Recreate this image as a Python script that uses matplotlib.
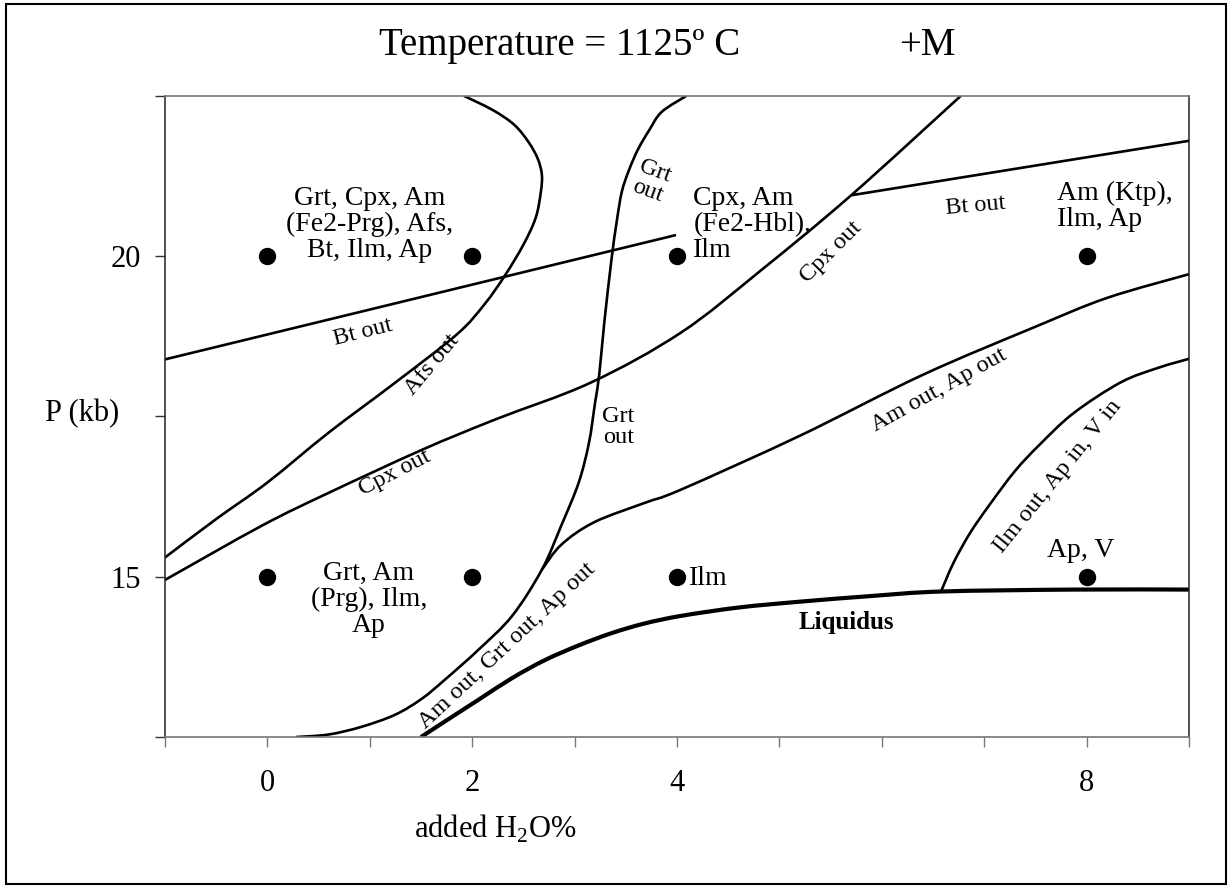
import matplotlib
matplotlib.use("Agg")
import matplotlib.pyplot as plt
from matplotlib.patches import Rectangle, PathPatch
from matplotlib.path import Path

plt.rcParams['font.family'] = ['Liberation Serif', 'DejaVu Serif']
plt.rcParams['mathtext.fontset'] = 'custom'
plt.rcParams['mathtext.rm'] = 'Liberation Serif'

# experimental runs: added H2O (wt%) and pressure (kb)
RUN_H2O = [0, 2, 4, 8, 0, 2, 4, 8]
RUN_P = [20, 20, 20, 20, 15, 15, 15, 15]

# phase boundaries, read as (H2O, P) points
BT_OUT_LOW_X = [-1.0, 3.99]
BT_OUT_LOW_Y = [18.39, 20.33]

BT_OUT_HIGH_X = [5.70, 9.0]
BT_OUT_HIGH_Y = [20.95, 21.80]

AFS_OUT_X = [-1.0, -0.5, 0.0, 0.6, 1.25, 1.85, 2.12, 2.32, 2.50, 2.62,
             2.67, 2.68, 2.64, 2.55, 2.41, 2.20, 1.92]
AFS_OUT_Y = [15.30, 15.90, 16.47, 17.25, 18.03, 18.78, 19.25, 19.70, 20.18,
             20.60, 21.0, 21.27, 21.52, 21.78, 22.05, 22.28, 22.50]

GRT_OUT_X = [0.28, 0.60, 0.92, 1.25, 1.51, 1.73, 2.06, 2.39, 2.68, 2.87,
             3.04, 3.14, 3.20, 3.24, 3.29, 3.36, 3.41, 3.46, 3.53, 3.62,
             3.73, 3.85, 4.09]
GRT_OUT_Y = [12.50, 12.54, 12.66, 12.85, 13.10, 13.39, 13.86, 14.39, 15.11,
             15.80, 16.47, 17.09, 17.72, 18.15, 18.97, 19.95, 20.53, 21.0,
             21.34, 21.67, 21.97, 22.25, 22.50]

CPX_OUT_X = [-1.0, -0.05, 0.60, 1.51, 2.22, 3.16, 4.04, 4.82, 5.70, 6.77]
CPX_OUT_Y = [14.95, 15.80, 16.31, 16.98, 17.45, 18.03, 18.81, 19.78, 20.95, 22.50]

AM_OUT_X = [2.68, 2.87, 3.19, 3.68, 4.04, 5.20, 6.40, 7.50, 8.20, 9.0]
AM_OUT_Y = [15.11, 15.50, 15.85, 16.15, 16.36, 17.20, 18.15, 18.90, 19.35,
            19.72]

ILM_OUT_X = [6.58, 6.70, 6.86, 7.05, 7.30, 7.54, 7.87, 8.33, 8.70, 9.0]
ILM_OUT_Y = [14.78, 15.22, 15.68, 16.12, 16.65, 17.06, 17.55, 18.03, 18.26,
             18.40]

LIQUIDUS_X = [1.50, 1.73, 2.06, 2.39, 2.71, 3.04, 3.36, 3.68, 4.04, 4.60,
              5.19, 5.90, 6.58, 7.87, 9.0]
LIQUIDUS_Y = [12.50, 12.74, 13.08, 13.42, 13.70, 13.93, 14.12, 14.27, 14.39,
              14.52, 14.61, 14.70, 14.77, 14.80, 14.80]

# assemblage fields: text, x, y, alignment
FIELD_LABELS = [
    ("Grt, Cpx, Am\n(Fe2-Prg), Afs,\nBt, Ilm, Ap", 1.00, 20.50, "center"),
    ("Cpx, Am\n(Fe2-Hbl),\nIlm", 4.16, 20.50, "left"),
    ("Am (Ktp),\nIlm, Ap", 7.71, 20.77, "left"),
    ("Grt, Am\n(Prg), Ilm,\nAp", 0.99, 14.64, "center"),
    ("Ilm", 4.12, 14.98, "left"),
    ("Ap, V", 7.94, 15.41, "center"),
]

# reaction labels: text, x, y, rotation
LINE_LABELS = [
    ("Bt out", 0.93, 18.81, 14),
    ("Afs out", 1.61, 18.31, 50),
    ("Cpx out", 1.24, 16.62, 27),
    ("Grt\nout", 3.43, 17.33, 0),
    ("Grt\nout", 3.75, 21.17, -20),
    ("Cpx out", 5.50, 20.06, 45),
    ("Bt out", 6.91, 20.78, 5),
    ("Am out, Ap out", 6.56, 17.91, 29),
    ("Am out, Grt out, Ap out", 2.34, 13.92, 43),
    ("Ilm out, Ap in, V in", 7.72, 16.56, 51),
]

XTICKS = list(range(-1, 10))
XTICK_LABELS = ["", "0", "", "2", "", "4", "", "", "", "8", ""]
YTICKS = [12.5, 15, 17.5, 20, 22.5]
YTICK_LABELS = ["", "15", "", "20", ""]


def smoothPath(xs, ys):
    # Catmull-Rom through the read points, drawn as cubic Bezier pieces
    pts = list(zip(xs, ys))
    verts = [pts[0]]
    codes = [Path.MOVETO]
    for i in range(len(pts) - 1):
        p0 = pts[i - 1] if i > 0 else pts[i]
        p1 = pts[i]
        p2 = pts[i + 1]
        p3 = pts[i + 2] if i + 2 < len(pts) else pts[i + 1]
        c1 = (p1[0] + (p2[0] - p0[0]) / 6, p1[1] + (p2[1] - p0[1]) / 6)
        c2 = (p2[0] - (p3[0] - p1[0]) / 6, p2[1] - (p3[1] - p1[1]) / 6)
        verts += [c1, c2, p2]
        codes += [Path.CURVE4] * 3
    return Path(verts, codes)


def drawBoundaries(ax):
    lw = 1.9
    for xs, ys in [(BT_OUT_LOW_X, BT_OUT_LOW_Y), (BT_OUT_HIGH_X, BT_OUT_HIGH_Y),
                   (AFS_OUT_X, AFS_OUT_Y), (GRT_OUT_X, GRT_OUT_Y),
                   (CPX_OUT_X, CPX_OUT_Y), (AM_OUT_X, AM_OUT_Y),
                   (ILM_OUT_X, ILM_OUT_Y)]:
        ax.add_patch(PathPatch(smoothPath(xs, ys), fill=False,
                               edgecolor='black', lw=lw, capstyle='butt'))
    ax.add_patch(PathPatch(smoothPath(LIQUIDUS_X, LIQUIDUS_Y), fill=False,
                           edgecolor='black', lw=3.0, capstyle='butt'))


def drawLabels(ax):
    for text, x, y, ha in FIELD_LABELS:
        ax.text(x, y, text, ha=ha, va='center', fontsize=20,
                linespacing=1.05, multialignment=ha)
    for text, x, y, rot in LINE_LABELS:
        ax.text(x, y, text, ha='center', va='center', fontsize=17.5,
                rotation=rot, rotation_mode='anchor', linespacing=1.0)
    ax.text(5.65, 14.28, "Liquidus", ha='center', va='center',
            fontsize=18, fontweight='bold')


def main():
    fig = plt.figure(figsize=(12.31, 8.88), dpi=100)
    ax = fig.add_axes([0.134, 0.170, 0.832, 0.722])

    drawBoundaries(ax)
    ax.plot(RUN_H2O, RUN_P, 'o', color='black', markersize=11.5)
    drawLabels(ax)

    ax.set_xlim(-1, 9)
    ax.set_ylim(12.5, 22.5)
    ax.set_xticks(XTICKS)
    ax.set_xticklabels(XTICK_LABELS)
    ax.set_yticks(YTICKS)
    ax.set_yticklabels(YTICK_LABELS)
    ax.tick_params(axis='x', direction='out', length=7, width=1.0,
                   color='#777777', labelsize=22, pad=16)
    ax.tick_params(axis='y', direction='out', length=7, width=1.0,
                   color='#333333', labelsize=22, pad=10)
    for side in ['top', 'bottom']:
        ax.spines[side].set_color('#777777')
        ax.spines[side].set_linewidth(1.2)
    for side in ['left', 'right']:
        ax.spines[side].set_color('#222222')
        ax.spines[side].set_linewidth(1.1)

    fig.text(0.455, 0.949, "Temperature = 1125º C", ha='center',
             va='center', fontsize=28)
    fig.text(0.753, 0.949, "+M", ha='center', va='center', fontsize=28)
    fig.text(0.0666, 0.534, "P (kb)", ha='center', va='center', fontsize=22)
    fig.text(0.402, 0.067, r"added H$_\mathregular{2}$O%", ha='center',
             va='center', fontsize=22)

    fig.patches.append(Rectangle((0.005, 0.004), 0.991, 0.991,
                                 transform=fig.transFigure, fill=False,
                                 edgecolor='black', linewidth=1.5))

    fig.savefig("out.png", dpi=100)


main()
